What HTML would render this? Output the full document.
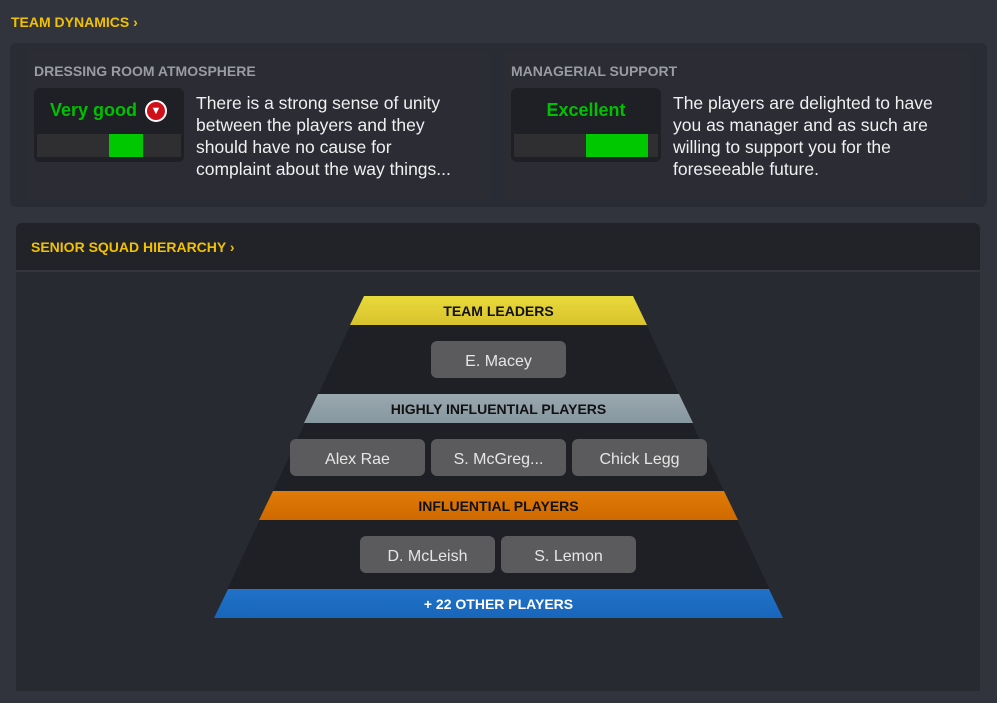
<!DOCTYPE html>
<html><head><style>
body{margin:0;width:997px;height:703px;background:#31343d;font-family:"Liberation Sans",sans-serif;position:relative;overflow:hidden}
.a{position:absolute}
.y{color:#f2c200;font-weight:bold;font-size:14px}
.g{color:#9a9ca3;font-weight:bold;font-size:14px}
.box{background:#1f2026;border-radius:6px}
.bar{background:#2f2f31}
.val{color:#00c000;font-size:18px;font-weight:bold;text-align:center}
.txt{color:#f0f0f0;font-size:17.5px;line-height:22px;white-space:nowrap}
.pill{position:absolute;background:#5b5b5d;border-radius:6px;color:#e6e6e6;font-size:16px;text-align:center;line-height:41px;height:37px;width:135px}
.lbl{position:absolute;width:997px;left:0;text-align:center;font-size:14px;font-weight:bold;line-height:31px;color:#111}
</style></head><body>
<div class="a y" style="left:11px;top:14px">TEAM DYNAMICS ›</div>
<div class="a" style="left:10px;top:43px;width:977px;height:164px;background:#2a2c35;border-radius:6px"></div>
<div class="a" style="left:27px;top:50px;width:463px;height:150px;background:#2b2c34"></div>
<div class="a" style="left:503px;top:50px;width:467px;height:150px;background:#2b2c34"></div>
<div class="a g" style="left:34px;top:63px">DRESSING ROOM ATMOSPHERE</div>
<div class="a box" style="left:34px;top:88px;width:150px;height:74px"></div>
<div class="a val" style="left:50px;top:100px">Very good</div>
<div class="a" style="left:145px;top:100px;width:22px;height:22px;border-radius:50%;background:#fff"></div>
<div class="a" style="left:147px;top:102px;width:18px;height:18px;border-radius:50%;background:#d0101a;color:#fff;font-size:11px;line-height:18px;text-align:center">▼</div>
<div class="a bar" style="left:37px;top:134px;width:144px;height:23px"></div>
<div class="a" style="left:109px;top:134px;width:34px;height:23px;background:#00c800"></div>
<div class="a txt" style="left:196px;top:92px">There is a strong sense of unity<br>between the players and they<br>should have no cause for<br>complaint about the way things...</div>
<div class="a g" style="left:511px;top:63px">MANAGERIAL SUPPORT</div>
<div class="a box" style="left:511px;top:88px;width:150px;height:74px"></div>
<div class="a val" style="left:511px;top:100px;width:150px">Excellent</div>
<div class="a bar" style="left:514px;top:134px;width:144px;height:23px"></div>
<div class="a" style="left:586px;top:134px;width:62px;height:23px;background:#00c800"></div>
<div class="a txt" style="left:673px;top:92px">The players are delighted to have<br>you as manager and as such are<br>willing to support you for the<br>foreseeable future.</div>

<div class="a" style="left:16px;top:223px;width:964px;height:468px;background:#282a32;border-radius:6px 6px 0 0"></div>
<div class="a" style="left:16px;top:223px;width:964px;height:47px;background:#222329;border-radius:6px 6px 0 0;border-bottom:2px solid #34363e"></div>
<div class="a y" style="left:31px;top:239px">SENIOR SQUAD HIERARCHY ›</div>

<svg class="a" style="left:0;top:0" width="997" height="703">
<defs>
<linearGradient id="yl" x1="0" y1="0" x2="0" y2="1"><stop offset="0" stop-color="#e8da3a"/><stop offset="1" stop-color="#d9c22e"/></linearGradient>
<linearGradient id="gr" x1="0" y1="0" x2="0" y2="1"><stop offset="0" stop-color="#9aa8b0"/><stop offset="1" stop-color="#87979f"/></linearGradient>
<linearGradient id="or" x1="0" y1="0" x2="0" y2="1"><stop offset="0" stop-color="#e07a08"/><stop offset="1" stop-color="#d06a00"/></linearGradient>
<linearGradient id="bl" x1="0" y1="0" x2="0" y2="1"><stop offset="0" stop-color="#2072c8"/><stop offset="1" stop-color="#1866bb"/></linearGradient>
</defs>
<polygon points="364,296 633,296 783,618 214,618" fill="#1f2026"/>
<polygon points="364,296 633,296 647,325 350,325" fill="url(#yl)"/>
<polygon points="318,394 679,394 693,423 304,423" fill="url(#gr)"/>
<polygon points="273,491 724,491 738,520 259,520" fill="url(#or)"/>
<polygon points="228,589 769,589 783,618 214,618" fill="url(#bl)"/>
</svg>
<div class="lbl" style="top:296px">TEAM LEADERS</div>
<div class="lbl" style="top:394px">HIGHLY INFLUENTIAL PLAYERS</div>
<div class="lbl" style="top:491px">INFLUENTIAL PLAYERS</div>
<div class="lbl" style="top:589px;color:#fff">+ 22 OTHER PLAYERS</div>
<div class="pill" style="left:431px;top:341px">E. Macey</div>
<div class="pill" style="left:290px;top:439px">Alex Rae</div>
<div class="pill" style="left:431px;top:439px">S. McGreg...</div>
<div class="pill" style="left:572px;top:439px">Chick Legg</div>
<div class="pill" style="left:360px;top:536px">D. McLeish</div>
<div class="pill" style="left:501px;top:536px">S. Lemon</div>
</body></html>
